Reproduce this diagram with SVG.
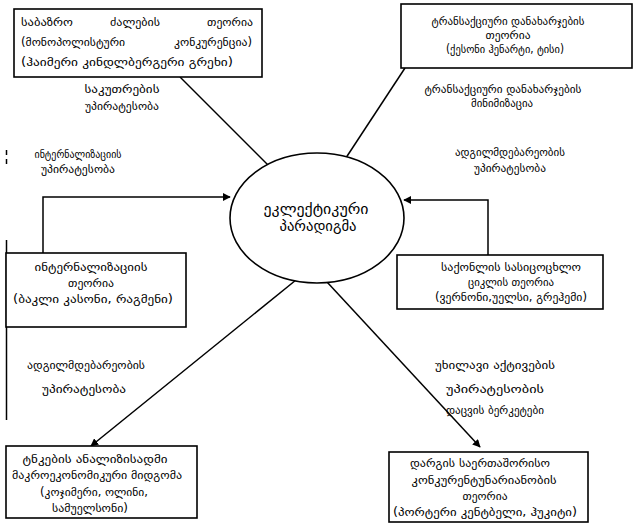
<svg xmlns="http://www.w3.org/2000/svg" width="641" height="525" viewBox="0 0 641 525">
<style>
.box{fill:#fff;stroke:#000;stroke-width:1.6}
.ln{fill:none;stroke:#000;stroke-width:1.5}
text{font-family:"DejaVu Sans",sans-serif;font-size:11.5px;fill:#000}
.c{text-anchor:middle}
.big{font-size:15px}
</style>
<defs>
<marker id="ah" viewBox="0 0 10 10" refX="9" refY="5" markerWidth="8" markerHeight="8" orient="auto" markerUnits="userSpaceOnUse">
<path d="M0,0 L10,5 L0,10 z" fill="#000"/>
</marker>
</defs>
<rect width="641" height="525" fill="#fff"/>
<g id="page-edge">
<line x1="6.5" y1="150" x2="6.5" y2="155" class="ln"/>
<line x1="6.5" y1="159" x2="6.5" y2="164" class="ln"/>
<line x1="6.5" y1="240" x2="6.5" y2="420" class="ln"/>
</g>
<g id="connectors">
<line x1="180" y1="77" x2="277" y2="174" class="ln" marker-end="url(#ah)"/>
<line x1="405" y1="68" x2="336" y2="173" class="ln" marker-end="url(#ah)"/>
<polyline points="43,253 43,197 230,197" class="ln" marker-end="url(#ah)"/>
<polyline points="488,255 488,200 404,200" class="ln" marker-end="url(#ah)"/>
<line x1="296" y1="280" x2="91" y2="446" class="ln" marker-end="url(#ah)"/>
<line x1="327" y1="282" x2="480" y2="447" class="ln" marker-end="url(#ah)"/>
</g>
<g id="labels">
<text x="122" y="93" class="c" textLength="75" lengthAdjust="spacingAndGlyphs">საკუთრების</text>
<text x="122" y="110" class="c" textLength="74" lengthAdjust="spacingAndGlyphs">უპირატესობა</text>
<text x="503" y="93" class="c" textLength="157" lengthAdjust="spacingAndGlyphs">ტრანსაქციური დანახარჯების</text>
<text x="502" y="107" class="c" textLength="62" lengthAdjust="spacingAndGlyphs">მინიმიზაცია</text>
<text x="78" y="158" class="c" textLength="87" lengthAdjust="spacingAndGlyphs">ინტერნალიზაციის</text>
<text x="78" y="173" class="c" textLength="74" lengthAdjust="spacingAndGlyphs">უპირატესობა</text>
<text x="510" y="156" class="c" textLength="110" lengthAdjust="spacingAndGlyphs">ადგილმდებარეობის</text>
<text x="510" y="172" class="c" textLength="72" lengthAdjust="spacingAndGlyphs">უპირატესობა</text>
<text x="86" y="369" class="c" textLength="118" lengthAdjust="spacingAndGlyphs">ადგილმდებარეობის</text>
<text x="84" y="393" class="c" textLength="84" lengthAdjust="spacingAndGlyphs">უპირატესობა</text>
<text x="495" y="369" class="c" textLength="120" lengthAdjust="spacingAndGlyphs">უხილავი აქტივების</text>
<text x="495" y="393" class="c" textLength="98" lengthAdjust="spacingAndGlyphs">უპირატესობის</text>
<text x="495" y="414" class="c" textLength="98" lengthAdjust="spacingAndGlyphs">დაცვის ბერკეტები</text>
</g>
<g id="market-power">
<rect x="14" y="9" width="248" height="68" class="box"/>
<text x="21" y="26" textLength="52" lengthAdjust="spacingAndGlyphs">საბაზრო</text>
<text x="110" y="26" textLength="50" lengthAdjust="spacingAndGlyphs">ძალების</text>
<text x="207" y="26" textLength="46" lengthAdjust="spacingAndGlyphs">თეორია</text>
<text x="21" y="46" textLength="104" lengthAdjust="spacingAndGlyphs">(მონოპოლისტური</text>
<text x="174" y="46" textLength="78" lengthAdjust="spacingAndGlyphs">კონკურენცია)</text>
<text x="21" y="66" textLength="212" lengthAdjust="spacingAndGlyphs">(ჰაიმერი  კინდლბერგერი  გრეხი)</text>
</g>
<g id="transaction-cost">
<rect x="401" y="4" width="231" height="64" class="box"/>
<text x="508" y="25" class="c" textLength="153" lengthAdjust="spacingAndGlyphs">ტრანსაქციური დანახარჯების</text>
<text x="508" y="39" class="c" textLength="45" lengthAdjust="spacingAndGlyphs">თეორია</text>
<text x="505" y="53" class="c" textLength="118" lengthAdjust="spacingAndGlyphs">(ქესონი  ჰენარტი, ტისი)</text>
</g>
<g id="eclectic">
<ellipse cx="317" cy="218" rx="87" ry="65" class="box"/>
<text x="316" y="214" class="c big" textLength="105" lengthAdjust="spacingAndGlyphs">ეკლექტიკური</text>
<text x="318" y="231" class="c big" textLength="77" lengthAdjust="spacingAndGlyphs">პარადიგმა</text>
</g>
<g id="internalization">
<rect x="6" y="253" width="180" height="74" class="box"/>
<text x="91" y="271" class="c" textLength="113" lengthAdjust="spacingAndGlyphs">ინტერნალიზაციის</text>
<text x="91" y="287" class="c" textLength="46" lengthAdjust="spacingAndGlyphs">თეორია</text>
<text x="93" y="303" class="c" textLength="160" lengthAdjust="spacingAndGlyphs">(ბაკლი  კასონი, რაგმენი)</text>
</g>
<g id="product-life-cycle">
<rect x="397" y="255" width="206" height="54" class="box"/>
<text x="511" y="271" class="c" textLength="140" lengthAdjust="spacingAndGlyphs">საქონლის სასიცოცხლო</text>
<text x="511" y="286" class="c" textLength="86" lengthAdjust="spacingAndGlyphs">ციკლის თეორია</text>
<text x="511" y="301" class="c" textLength="152" lengthAdjust="spacingAndGlyphs">(ვერნონი,უელსი, გრეჰემი)</text>
</g>
<g id="macroeconomic">
<rect x="6" y="446" width="191" height="72" class="box"/>
<text x="95" y="463" class="c" textLength="145" lengthAdjust="spacingAndGlyphs">ტნკების ანალიზისადმი</text>
<text x="97" y="479" class="c" textLength="170" lengthAdjust="spacingAndGlyphs">მაკროეკონომიკური მიდგომა</text>
<text x="94" y="496" class="c" textLength="108" lengthAdjust="spacingAndGlyphs">(კოჯიმერი, ოლინი,</text>
<text x="90" y="512" class="c" textLength="76" lengthAdjust="spacingAndGlyphs">სამუელსონი)</text>
</g>
<g id="competitiveness">
<rect x="389" y="452" width="199" height="70" class="box"/>
<text x="480" y="467" class="c" textLength="140" lengthAdjust="spacingAndGlyphs">დარგის საერთაშორისო</text>
<text x="484" y="484" class="c" textLength="145" lengthAdjust="spacingAndGlyphs">კონკურენტუნარიანობის</text>
<text x="485" y="500" class="c" textLength="45" lengthAdjust="spacingAndGlyphs">თეორია</text>
<text x="485" y="516" class="c" textLength="184" lengthAdjust="spacingAndGlyphs">(პორტერი  კენტბელი,  ჰუკიტი)</text>
</g>
</svg>
